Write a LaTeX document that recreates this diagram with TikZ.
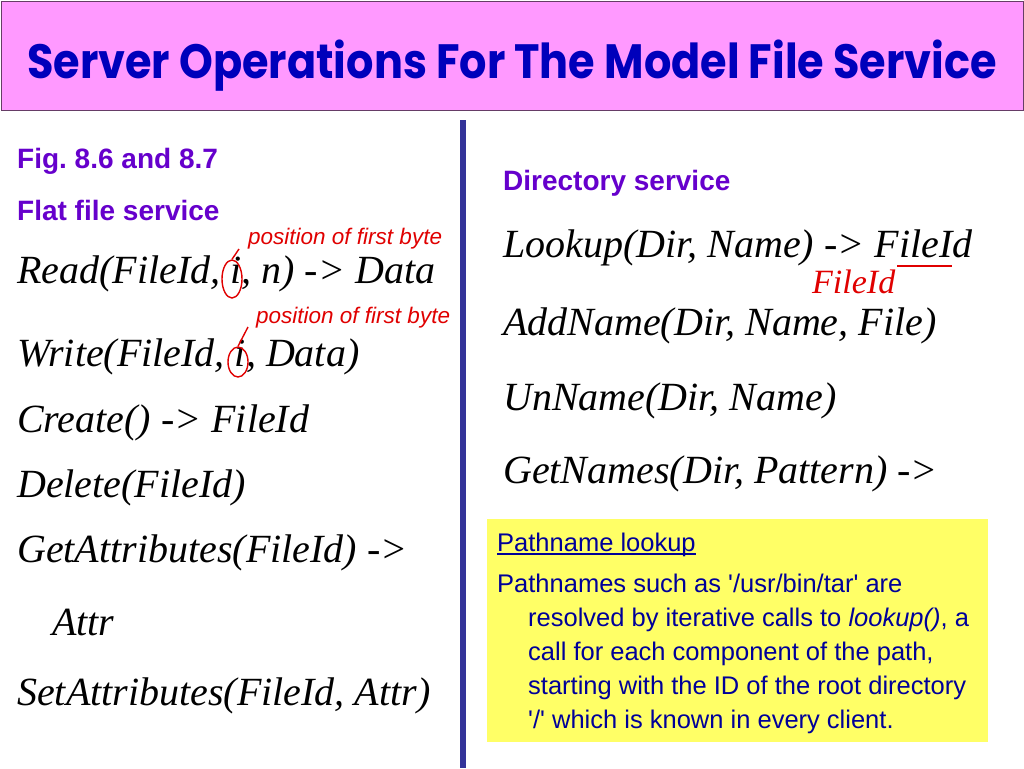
\documentclass[tikz,border=0pt]{standalone}
\usepackage{fontspec}
\setmainfont{Liberation Serif}
\newfontfamily\ariel{Liberation Sans}
\newfontfamily\titlefont{Poppins}
\usetikzlibrary{shapes.geometric}
\definecolor{titlepink}{HTML}{FF99FF}
\definecolor{titleblue}{HTML}{0000BB}
\definecolor{headpurple}{HTML}{6600CC}
\definecolor{noteblue}{HTML}{000099}
\definecolor{rulecol}{HTML}{333399}
\definecolor{notered}{HTML}{E00000}
\definecolor{noteyellow}{HTML}{FFFF66}
\tikzset{
  op/.style={anchor=base west, inner sep=0pt, font=\fontsize{40}{48}\selectfont\itshape},
  head/.style={anchor=base west, inner sep=0pt, text=headpurple, font=\ariel\bfseries\fontsize{28}{32}\selectfont},
  remark/.style={anchor=base west, inner sep=0pt, text=notered, font=\ariel\itshape\fontsize{22.5}{26}\selectfont},
  redline/.style={draw=notered, line width=1.4pt},
  notetext/.style={anchor=base west, inner sep=0pt, text=noteblue, font=\ariel\fontsize{25.5}{30}\selectfont},
}
\frenchspacing
\begin{document}
\begin{tikzpicture}[x=1pt,y=-1pt]
\useasboundingbox (0,0) rectangle (1024,768);
\fill[white] (0,0) rectangle (1024,768);
% title
\node[draw=black!60!titlepink, line width=1pt, fill=titlepink, minimum width=1022pt, minimum height=109pt, anchor=north west, inner sep=0pt] (titlebox) at (1,1) {};
\node[text=titleblue, font=\titlefont\bfseries\fontsize{43}{50}\selectfont, anchor=base] (title) at (512,78) {\scalebox{1}[1.12]{Server Operations For The Model File Service}};
% divider
\draw[rulecol, line width=6pt] (463,120) coordinate (ruletop) -- (463,768) coordinate (rulebot);
% left column
\node[head] (fig) at (17,168) {Fig.\ 8.6 and 8.7};
\node[head] (flat) at (17,220) {Flat file service};
\node[remark] (pos1) at (248,244) {position of first byte};
\node[op] (read) at (17,283) {Read(FileId, i, n) -> Data};
\node[remark] (pos2) at (256,323) {position of first byte};
\node[op] (write) at (17,366) {Write(FileId, i, Data)};
\node[op] (create) at (17,432) {Create() -> FileId};
\node[op] (delete) at (17,497) {Delete(FileId)};
\node[op] (getattr) at (17,562) {GetAttributes(FileId) ->};
\node[op] (attr) at (52,635) {Attr};
\node[op] (setattr) at (17,705) {SetAttributes(FileId, Attr)};
% red marks on i
\node[redline, ellipse, minimum width=20pt, minimum height=38pt, inner sep=0pt] (ring1) at (232,279) {};
\draw[redline] (ring1.north) -- (239,249) coordinate (tick1);
\node[redline, ellipse, minimum width=20pt, minimum height=30pt, inner sep=0pt] (ring2) at (238,362) {};
\draw[redline] (ring2.north) -- (248,327) coordinate (tick2);
% right column
\node[head] (dirs) at (503,190) {Directory service};
\node[op] (lookup) at (503,257) {Lookup(Dir, Name) -> FileId};
\draw[notered, line width=1.5pt] (897,266) coordinate (ul1) -- (952,266) coordinate (ul2);
\node[anchor=base west, inner sep=0pt, text=notered, font=\fontsize{34}{38}\selectfont\itshape] (fid) at (812,293) {FileId};
\node[op] (addname) at (503,335) {AddName(Dir, Name, File)};
\node[op] (unname) at (503,410) {UnName(Dir, Name)};
\node[op] (getnames) at (503,483) {GetNames(Dir, Pattern) ->};
% yellow note
\node[fill=noteyellow, minimum width=501pt, minimum height=223pt, anchor=north west, inner sep=0pt] (note) at (487,519) {};
\node[notetext] (nhead) at (497,551) {Pathname lookup};
\draw[noteblue, line width=1.2pt] ([yshift=-3pt]nhead.base west) -- ([yshift=-3pt]nhead.base east);
\node[notetext] (nl1) at (497,592) {Pathnames such as '/usr/bin/tar' are};
\node[notetext] (nl2) at (528,626) {resolved by iterative calls to \textit{lookup()}, a};
\node[notetext] (nl3) at (528,660) {call for each component of the path,};
\node[notetext] (nl4) at (528,694) {starting with the ID of the root directory};
\node[notetext] (nl5) at (528,728) {'/' which is known in every client.};
\end{tikzpicture}
\end{document}
